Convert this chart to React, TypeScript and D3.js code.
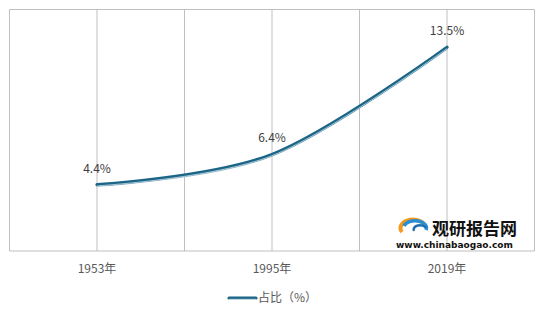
import React from "react";
import * as d3 from "d3";

const categories = ["1953年", "1995年", "2019年"];
const values = [4.4, 6.4, 13.5];
const valueLabels = ["4.4%", "6.4%", "13.5%"];
const seriesName = "占比（%）";

const W = 539, H = 312;
const left = 9.5, right = 534.5, top = 9.5, bottom = 251;

export default function App() {
  const x = d3.scaleBand<string>().domain(categories).range([left, right]).padding(0);
  const y = d3.scaleLinear().domain([0, 16]).range([bottom, top]);
  const cx = (c: string) => (x(c) as number) + x.bandwidth() / 2;
  const pts: [number, number][] = categories.map((c, i) => [cx(c), y(values[i])]);
  const line = d3.line().curve(d3.curveCatmullRom.alpha(0))(pts) as string;
  const grid: number[] = [];
  categories.forEach((c) => { grid.push(x(c) as number); grid.push(cx(c)); });
  grid.push(right);
  const font = "'Noto Sans CJK SC', 'Open Sans', sans-serif";
  return (
    <svg width={W} height={H} style={{ position: "absolute", left: 0, top: 0, background: "#fff" }}>
      <rect x={0} y={0} width={W} height={H} fill="#fff" />
      {grid.map((g, i) => (
        <line key={i} x1={g} x2={g} y1={top} y2={bottom} stroke="#bfbfbf" strokeWidth={1} />
      ))}
      <line x1={left} x2={right} y1={top} y2={top} stroke="#bfbfbf" />
      <line x1={left} x2={right} y1={bottom} y2={bottom} stroke="#bfbfbf" />
      {/* watermark */}
      <g>
        <path d="M402,232 A12,8 0 0 1 424,224" fill="none" stroke="#f39a1e" strokeWidth={4} />
        <path d="M404,226 A11,7 0 0 1 426,230" fill="none" stroke="#2a8fd0" strokeWidth={3.5} />
        <path d="M414,231 A6,4 0 0 1 426,228" fill="none" stroke="#1f6fb0" strokeWidth={2.5} />
        <text x={432} y={235} fontFamily={font} fontWeight={700} fontSize={17} fill="#111">观研报告网</text>
        <text x={396} y={248} fontFamily="'DejaVu Sans', sans-serif" fontWeight={700} fontSize={9} fill="#111">www.chinabaogao.com</text>
      </g>
      <g transform="translate(0,1)">
        <path d={line} fill="none" stroke="#8fb7cc" strokeWidth={2.5} />
      </g>
      <path d={line} fill="none" stroke="#1b6587" strokeWidth={3.2} strokeLinecap="round" />
      <g transform="translate(0,1.3)">
        <path d={line} fill="none" stroke="#e8f1f5" strokeWidth={0.7} />
      </g>
      {pts.map((p, i) => (
        <text key={i} x={p[0]} y={p[1] - 12} textAnchor="middle" fontFamily={font} fontSize={12} fill="#404040">
          {valueLabels[i]}
        </text>
      ))}
      {categories.map((c) => (
        <text key={c} x={cx(c)} y={273} textAnchor="middle" fontFamily={font} fontSize={12} fill="#595959">
          {c}
        </text>
      ))}
      <g>
        <line x1={229} x2={256} y1={298} y2={298} stroke="#1b6587" strokeWidth={3.2} strokeLinecap="round" />
        <line x1={229} x2={256} y1={299.3} y2={299.3} stroke="#e8f1f5" strokeWidth={0.7} />
        <text x={258} y={302} fontFamily={font} fontSize={12} fill="#595959">{seriesName}</text>
      </g>
    </svg>
  );
}
